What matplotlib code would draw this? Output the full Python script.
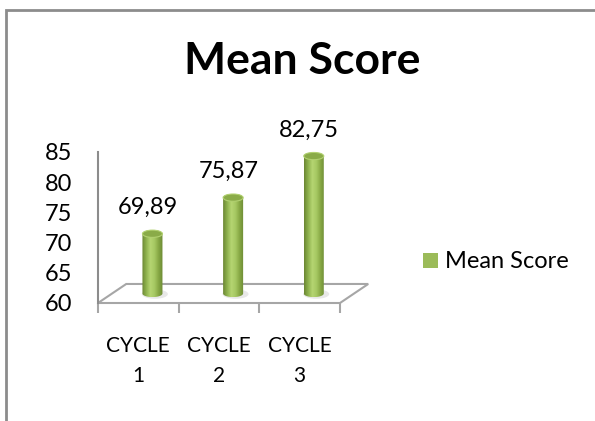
import numpy as np
import matplotlib.pyplot as plt
from matplotlib.patches import Ellipse, Polygon, PathPatch, Patch, Rectangle
from matplotlib.path import Path
from matplotlib.colors import LinearSegmentedColormap

cycles = ['CYCLE\n1', 'CYCLE\n2', 'CYCLE\n3']
mean_score = [69.89, 75.87, 82.75]
value_labels = ['69,89', '75,87', '82,75']
y_ticks = [60, 65, 70, 75, 80, 85]
series_name = 'Mean Score'

plt.rcParams['font.family'] = ['Lato', 'DejaVu Sans']
fs = 17

fig = plt.figure(figsize=(5.95, 4.21), dpi=100)
ax = fig.add_axes([98/595, 118/421, 242/595, 151/421])
ax.set_xlim(-0.5, 2.5)
ax.set_ylim(60, 85)

# fake 3d: floor depth and cylinder size in axis units
depth_x, depth_y = 0.35, 3.15
r, eh = 0.124, 0.6
mid_x, mid_y = depth_x / 2, depth_y / 2

grey = '#a6a6a6'
floor = Polygon([(-0.5, 60), (2.5, 60), (2.5 + depth_x, 60 + depth_y),
                 (-0.5 + depth_x, 60 + depth_y)], closed=True, fill=False,
                ec=grey, lw=1.5, clip_on=False, zorder=1)
ax.add_patch(floor)

cmap = LinearSegmentedColormap.from_list('cyl', ['#6b8733', '#8fb24e', '#b5d572',
                                                 '#a6c862', '#86a744', '#6d8a35'])
grad = np.linspace(0, 1, 64).reshape(1, -1)
t_low = np.linspace(np.pi, 2*np.pi, 40)
t_up = np.linspace(0, np.pi, 40)

for i, v in enumerate(mean_score):
    cx = i + mid_x
    y0 = 60 + mid_y
    y1 = v + mid_y
    # soft shadow on the floor
    ax.add_patch(Ellipse((cx + 0.03, y0 - 0.1), 2.6*r, 2.6*eh, fc='#d9d9d9',
                         ec='none', alpha=0.6, clip_on=False, zorder=2))
    verts = list(zip(cx + r*np.cos(t_low), y0 + eh*np.sin(t_low)))
    verts += list(zip(cx + r*np.cos(t_up), y1 + eh*np.sin(t_up)))
    verts.append(verts[0])
    body = PathPatch(Path(verts, closed=True), fc='none', ec='none',
                     clip_on=False)
    ax.add_patch(body)
    im = ax.imshow(grad, cmap=cmap, aspect='auto', zorder=3,
                   extent=[cx - r, cx + r, y0 - eh, y1 + eh])
    im.set_clip_path(body)
    ax.add_patch(Ellipse((cx, y1), 2*r, 2*eh, fc='#8aab48', ec='#b2d171',
                         lw=0.8, clip_on=False, zorder=4))
    ax.annotate(value_labels[i], (i + 0.12, y1), xytext=(0, 18.7),
                textcoords='offset points', ha='center', va='center',
                fontsize=fs, annotation_clip=False)

ax.set_xlim(-0.5, 2.5)
ax.set_ylim(60, 85)

for s in ['top', 'right', 'bottom']:
    ax.spines[s].set_visible(False)
ax.spines['left'].set_color('#8c8c8c')
ax.spines['left'].set_linewidth(1.5)

ax.set_xticks(range(len(cycles)))
ax.set_xticklabels(cycles, linespacing=1.62)
ax.set_xticks([-0.5, 0.5, 1.5, 2.5], minor=True)
ax.tick_params(axis='x', which='major', length=0, pad=24, labelsize=15)
ax.tick_params(axis='x', which='minor', length=7, width=1.5, color=grey)
ax.set_yticks(y_ticks)
ax.tick_params(axis='y', length=0, pad=18.7, labelsize=fs)

fig.text(302/595, 1 - 61/421, 'Mean Score', ha='center', va='center',
         fontsize=32, fontweight='bold')

fig.legend(handles=[Patch(facecolor='#9bbb59', label=series_name)],
           loc='center left', bbox_to_anchor=(423/595, 159/421), frameon=False,
           fontsize=fs, handlelength=0.62, handleheight=0.62, handletextpad=0.3,
           borderpad=0, borderaxespad=0)

# outer chart frame (cropped at right and bottom)
fig.add_artist(Rectangle((6/595, -0.1), 1.2, 1.1 - 10/421, transform=fig.transFigure,
                         fill=False, ec='#8c8c8c', lw=2))

fig.savefig('out.png', dpi=100)
